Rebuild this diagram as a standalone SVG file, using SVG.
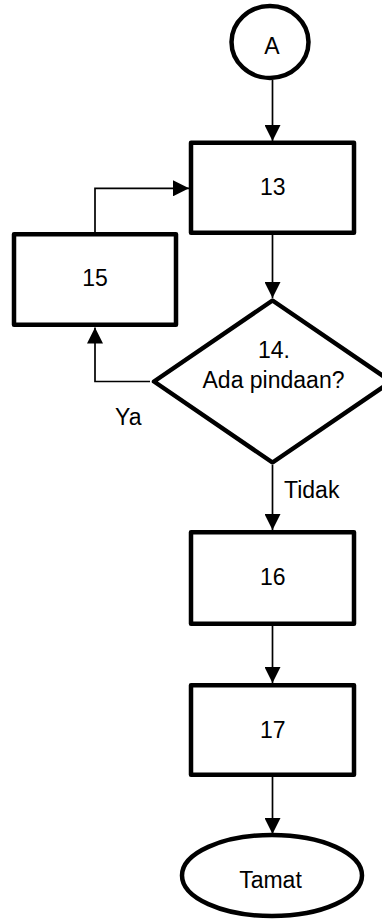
<svg xmlns="http://www.w3.org/2000/svg" width="382" height="920" viewBox="0 0 382 920">
<style>
.shape{fill:#fff;stroke:#000;stroke-width:4.5;stroke-linejoin:round}
.conn{fill:none;stroke:#000;stroke-width:1.7}
.t{font-family:"Liberation Sans",Arial,sans-serif;font-size:23px;fill:#000;text-anchor:middle}
.l{font-family:"Liberation Sans",Arial,sans-serif;font-size:23px;fill:#000}
</style>
<defs>
<marker id="ah" markerUnits="userSpaceOnUse" markerWidth="16" markerHeight="16" viewBox="0 0 15 15" refX="15" refY="7.5" orient="auto">
<path d="M0,0 L15,7.5 L0,15 Z" fill="#000"/>
</marker>
</defs>
<g id="connectors">
<line class="conn" x1="272.5" y1="80" x2="272.5" y2="141" marker-end="url(#ah)"/>
<line class="conn" x1="272.5" y1="235" x2="272.5" y2="298" marker-end="url(#ah)"/>
<line class="conn" x1="272.5" y1="465" x2="272.5" y2="530" marker-end="url(#ah)"/>
<line class="conn" x1="272.5" y1="626" x2="272.5" y2="683" marker-end="url(#ah)"/>
<line class="conn" x1="272.5" y1="777" x2="272.5" y2="834" marker-end="url(#ah)"/>
<polyline class="conn" points="150,381.5 95,381.5 95,327.5" marker-end="url(#ah)"/>
<polyline class="conn" points="95,232 95,188.3 189,188.3" marker-end="url(#ah)"/>
<text class="l" x="115" y="424.5">Ya</text>
<text class="l" x="284" y="497.5">Tidak</text>
</g>
<g id="nodeA">
<ellipse class="shape" cx="270" cy="42" rx="38.5" ry="36" stroke-width="4"/>
<text class="t" x="272" y="53.5" font-size="24">A</text>
</g>
<g id="node13">
<rect class="shape" x="191" y="142.75" width="163" height="90"/>
<text class="t" x="272.7" y="195">13</text>
</g>
<g id="node15">
<rect class="shape" x="14" y="234.25" width="162" height="90.5"/>
<text class="t" x="95" y="285.7">15</text>
</g>
<g id="node14">
<polygon class="shape" points="272.5,300.5 391,381.5 272.5,462.5 154,381.5" stroke-linejoin="miter"/>
<text class="t" x="274" y="357.5">14.</text>
<text class="t" x="273.5" y="388">Ada pindaan?</text>
</g>
<g id="node16">
<rect class="shape" x="191" y="532.25" width="163" height="91.5"/>
<text class="t" x="272.7" y="585">16</text>
</g>
<g id="node17">
<rect class="shape" x="191" y="685.25" width="163" height="89.5"/>
<text class="t" x="272.7" y="738.3">17</text>
</g>
<g id="nodeTamat">
<ellipse class="shape" cx="272" cy="875.5" rx="90" ry="40.5"/>
<text class="t" x="270.5" y="888">Tamat</text>
</g>
</svg>
